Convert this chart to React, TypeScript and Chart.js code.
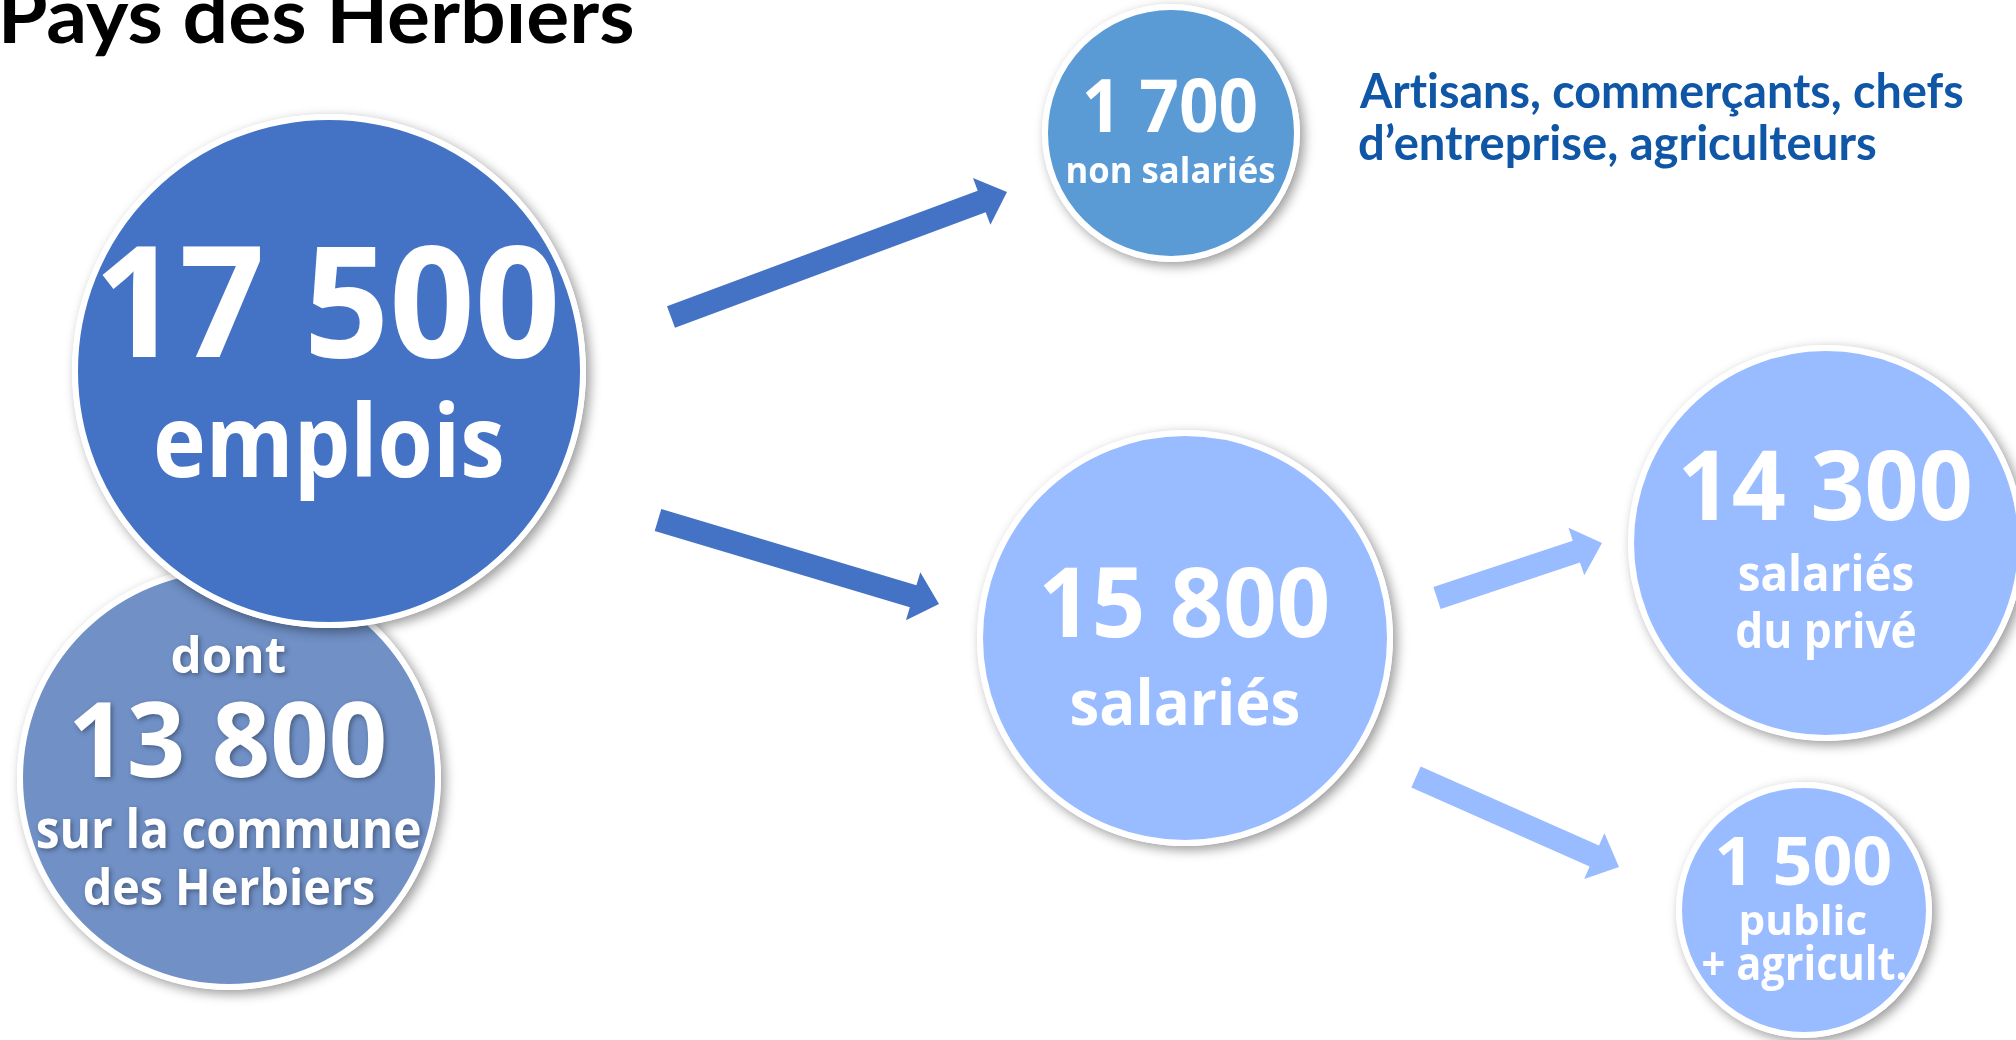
import React, { useEffect, useRef } from "react";
import { Chart, registerables } from "chart.js";

Chart.register(...registerables);

// ---------- data ----------
const TITLE = "Pays des Herbiers";
const NOTE_LINES = ["Artisans, commerçants, chefs", "d’entreprise, agriculteurs"];
const NODE_VALUES = [13800, 17500, 1700, 15800, 14300, 1500];
const NODE_PREFIX = ["dont", "", "", "", "", ""];
const NODE_CAPTIONS = [
  ["sur la commune", "des Herbiers"],
  ["emplois"],
  ["non salariés"],
  ["salariés"],
  ["salariés", "du privé"],
  ["public", "+ agricult."],
];
const FLOW_FROM = [1, 1, 3, 3];
const FLOW_TO = [2, 3, 4, 5];

// ---------- layout & style ----------
const W = 2016;
const H = 1040;
const NODE_X = [229, 329, 1171, 1185, 1826, 1804];
const NODE_Y = [778, 371, 133, 638, 543, 910];
const NODE_R = [212, 257, 129, 208, 198, 128];
const NODE_FILL = ["#7090C6", "#4472C4", "#5B9BD5", "#99BBFF", "#99BBFF", "#99BBFF"];
const NODE_ORDER = [1, 0, 0, 0, 0, 0];
const NODE_TEXT_SHADOW = [true, false, false, false, false, false];
// per line: [baseline y, font size, ink width]
const NODE_TEXT_LAYOUT = [
  [[673, 50, 113], [777, 104, 310], [848, 53, 383], [905, 50, 289]],
  [[357, 154, 453], [477, 100, 345]],
  [[132, 73, 171], [183, 36, 207]],
  [[637, 97, 284], [725, 62, 227]],
  [[520, 97, 287], [591, 50, 173], [648, 49, 178]],
  [[885, 66, 173], [935, 42, 125], [980, 46, 203]],
];
const FLOW_TAIL = [[671, 317], [658, 520], [1437, 598], [1416, 777]];
const FLOW_TIP = [[1007, 192], [939, 604], [1602, 543], [1619, 867]];
const FLOW_COLOR = ["#4472C4", "#4472C4", "#99BBFF", "#99BBFF"];
const SHAFT_W = 23;
const HEAD_W = 50;
const HEAD_L = 27;
const BORDER_W = 6;
const CIRCLE_FONT = "'Open Sans', 'Noto Sans', sans-serif";
const TEXT_FONT = "Lato, 'Open Sans', sans-serif";
const TITLE_LAYOUT = { x: 4, baseline: 43, size: 76, width: 628 };
const NOTE_LAYOUT = { x: 1359, baselines: [108, 160], size: 47, widths: [604, 517] };
const NOTE_COLOR = "#0F56A6";

function fmt(v: number): string {
  return String(v).replace(/\B(?=(\d{3})+(?!\d))/g, " ");
}

function fitText(
  ctx: CanvasRenderingContext2D,
  text: string,
  x: number,
  y: number,
  size: number,
  inkWidth: number,
  align: "center" | "left",
  family: string,
  weight: string
) {
  ctx.font = `${weight} ${size}px ${family}`;
  ctx.textAlign = "left";
  ctx.textBaseline = "alphabetic";
  const m = ctx.measureText(text);
  const l = m.actualBoundingBoxLeft;
  const r = m.actualBoundingBoxRight;
  const w = l + r || 1;
  const sx = inkWidth / w;
  ctx.save();
  ctx.translate(x, y);
  ctx.scale(sx, 1);
  const x0 = align === "center" ? -(r - l) / 2 : l;
  ctx.fillText(text, x0, 0);
  ctx.restore();
}

const infographicPlugin = {
  id: "infographic",
  beforeDatasetsDraw(chart: any) {
    const ctx: CanvasRenderingContext2D = chart.ctx;
    const xs = chart.scales.x;
    const ys = chart.scales.y;
    FLOW_FROM.forEach((_, i) => {
      const tx = xs.getPixelForValue(FLOW_TAIL[i][0]);
      const ty = ys.getPixelForValue(FLOW_TAIL[i][1]);
      const hx = xs.getPixelForValue(FLOW_TIP[i][0]);
      const hy = ys.getPixelForValue(FLOW_TIP[i][1]);
      const dx = hx - tx;
      const dy = hy - ty;
      const len = Math.hypot(dx, dy);
      const ux = dx / len;
      const uy = dy / len;
      const nx = -uy;
      const ny = ux;
      const bx = hx - ux * HEAD_L;
      const by = hy - uy * HEAD_L;
      const s = SHAFT_W / 2;
      const h = HEAD_W / 2;
      ctx.save();
      ctx.fillStyle = FLOW_COLOR[i];
      ctx.beginPath();
      ctx.moveTo(tx + nx * s, ty + ny * s);
      ctx.lineTo(bx + nx * s, by + ny * s);
      ctx.lineTo(bx + nx * h, by + ny * h);
      ctx.lineTo(hx, hy);
      ctx.lineTo(bx - nx * h, by - ny * h);
      ctx.lineTo(bx - nx * s, by - ny * s);
      ctx.lineTo(tx - nx * s, ty - ny * s);
      ctx.closePath();
      ctx.fill();
      ctx.restore();
    });
  },
  beforeDatasetDraw(chart: any, args: any) {
    const ctx: CanvasRenderingContext2D = chart.ctx;
    const meta = args.meta;
    meta.data.forEach((el: any) => {
      const rad = el.options.radius + el.options.borderWidth / 2;
      ctx.save();
      ctx.shadowColor = "rgba(0,0,0,0.4)";
      ctx.shadowBlur = 12;
      ctx.shadowOffsetX = 4;
      ctx.shadowOffsetY = 4;
      ctx.fillStyle = "#ffffff";
      ctx.beginPath();
      ctx.arc(el.x, el.y, rad, 0, Math.PI * 2);
      ctx.fill();
      ctx.restore();
    });
  },
  afterDatasetDraw(chart: any, args: any) {
    const ctx: CanvasRenderingContext2D = chart.ctx;
    const i = args.index;
    const el = args.meta.data[0];
    if (!el) return;
    const ys = chart.scales.y;
    const lines: string[] = [];
    if (NODE_PREFIX[i]) lines.push(NODE_PREFIX[i]);
    lines.push(fmt(NODE_VALUES[i]));
    NODE_CAPTIONS[i].forEach((c) => lines.push(c));
    ctx.save();
    ctx.fillStyle = "#ffffff";
    if (NODE_TEXT_SHADOW[i]) {
      ctx.shadowColor = "rgba(0,0,0,0.35)";
      ctx.shadowBlur = 5;
      ctx.shadowOffsetX = 2;
      ctx.shadowOffsetY = 2;
    }
    lines.forEach((t, k) => {
      const [by, size, iw] = NODE_TEXT_LAYOUT[i][k];
      fitText(ctx, t, el.x, ys.getPixelForValue(by), size, iw, "center", CIRCLE_FONT, "700");
    });
    ctx.restore();
  },
  afterDraw(chart: any) {
    const ctx: CanvasRenderingContext2D = chart.ctx;
    ctx.save();
    try {
      (ctx as any).letterSpacing = "0.01px";
    } catch (e) {
      /* ignore */
    }
    ctx.fillStyle = "#000000";
    fitText(ctx, TITLE, TITLE_LAYOUT.x, TITLE_LAYOUT.baseline, TITLE_LAYOUT.size, TITLE_LAYOUT.width, "left", TEXT_FONT, "700");
    ctx.fillStyle = NOTE_COLOR;
    NOTE_LINES.forEach((t, k) => {
      fitText(ctx, t, NOTE_LAYOUT.x, NOTE_LAYOUT.baselines[k], NOTE_LAYOUT.size, NOTE_LAYOUT.widths[k], "left", TEXT_FONT, "700");
    });
    ctx.restore();
  },
};

export default function App() {
  const ref = useRef<HTMLCanvasElement | null>(null);
  useEffect(() => {
    document.body.style.margin = "0";
    const canvas = ref.current;
    if (!canvas) return;
    const chart = new Chart(canvas, {
      type: "bubble",
      data: {
        datasets: NODE_VALUES.map((v, i) => ({
          label: fmt(v),
          data: [{ x: NODE_X[i], y: NODE_Y[i], r: NODE_R[i] - BORDER_W / 2 }],
          backgroundColor: NODE_FILL[i],
          borderColor: "#ffffff",
          borderWidth: BORDER_W,
          hoverBorderWidth: BORDER_W,
          hoverRadius: 0,
          order: NODE_ORDER[i],
          clip: false as any,
        })),
      },
      options: {
        responsive: false,
        animation: false,
        devicePixelRatio: 1,
        events: [],
        layout: { padding: 0, autoPadding: false },
        plugins: {
          legend: { display: false },
          tooltip: { enabled: false },
          title: { display: false },
        },
        scales: {
          x: { type: "linear", min: 0, max: W, display: false },
          y: { type: "linear", min: 0, max: H, reverse: true, display: false },
        },
      },
      plugins: [infographicPlugin],
    });
    return () => chart.destroy();
  }, []);
  return (
    <div style={{ width: W, height: H, background: "#ffffff", overflow: "hidden" }}>
      <canvas ref={ref} width={W} height={H} style={{ display: "block", width: W, height: H }} />
    </div>
  );
}
